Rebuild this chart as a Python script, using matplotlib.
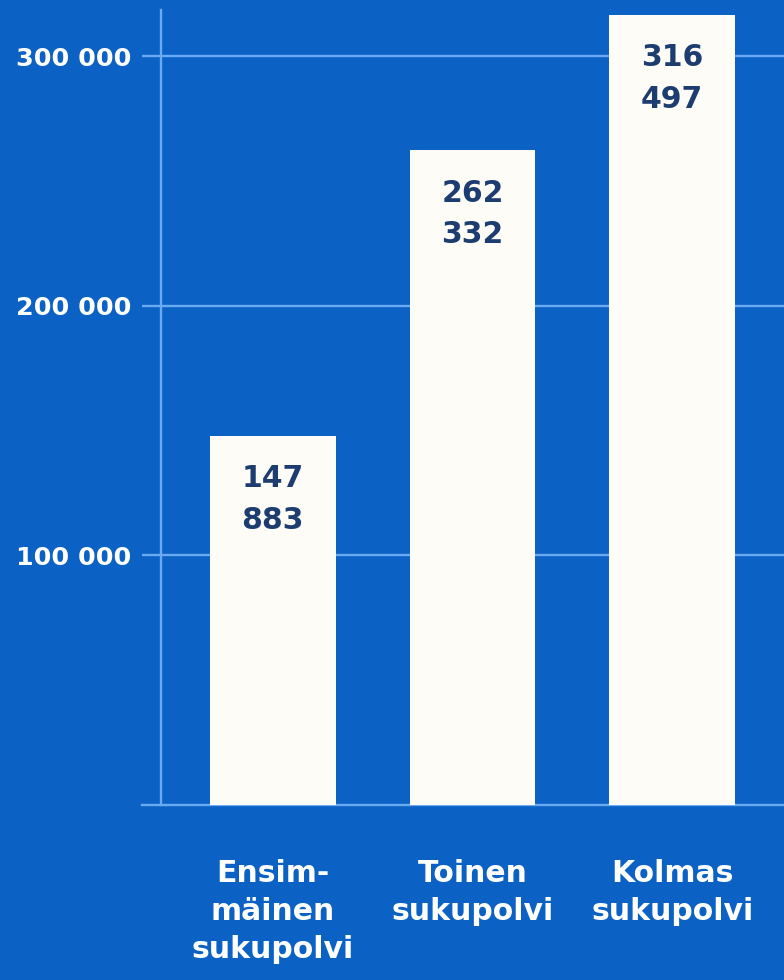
import matplotlib.pyplot as plt
from matplotlib.ticker import FuncFormatter

categories = ['Ensim-\nmäinen\nsukupolvi', 'Toinen\nsukupolvi', 'Kolmas\nsukupolvi']
values = [147883, 262332, 316497]
yticks = [100000, 200000, 300000]

bg = '#0b62c4'
line_col = '#6aaaf2'
bar_col = '#fdfcf7'
label_col = '#1d3c70'

plt.rcParams['font.family'] = 'DejaVu Sans'
plt.rcParams['font.weight'] = 'bold'

fig = plt.figure(figsize=(7.84, 9.8), dpi=100, facecolor=bg)
ax = fig.add_axes([161 / 784, 175 / 980, 623 / 784, 795 / 980])
ax.set_facecolor(bg)

x = list(range(len(categories)))
ax.bar(x, values, width=0.63, color=bar_col, zorder=3)

for xi, v in zip(x, values):
    txt = f'{v:,}'.replace(',', '\n')
    ax.annotate(txt, (xi, v), xytext=(0, -20.5), textcoords='offset points',
                ha='center', va='top', fontsize=21.5, fontweight='bold',
                color=label_col, linespacing=1.55, zorder=4)

ax.set_xlim(-0.56, 2.56)
ax.set_ylim(0, 318500)
ax.set_yticks(yticks)
ax.yaxis.set_major_formatter(FuncFormatter(lambda v, p: f'{int(v):,}'.replace(',', ' ')))
ax.set_xticks(x)
ax.set_xticklabels(categories, linespacing=1.38)

ax.grid(axis='y', color=line_col, linewidth=1.7, zorder=1)
ax.tick_params(axis='y', direction='out', length=13.5, width=1.7, color=line_col,
               labelcolor='white', labelsize=18.3, pad=8)
ax.tick_params(axis='x', length=0, labelcolor='white', labelsize=21.5, pad=39)

for s in ['top', 'right', 'bottom']:
    ax.spines[s].set_visible(False)
ax.spines['left'].set_color(line_col)
ax.spines['left'].set_linewidth(1.7)
ax.plot([-0.031, 1], [0, 0], transform=ax.transAxes, color=line_col,
        linewidth=1.7, clip_on=False, zorder=2)

fig.savefig('out.png', dpi=100, facecolor=bg)
